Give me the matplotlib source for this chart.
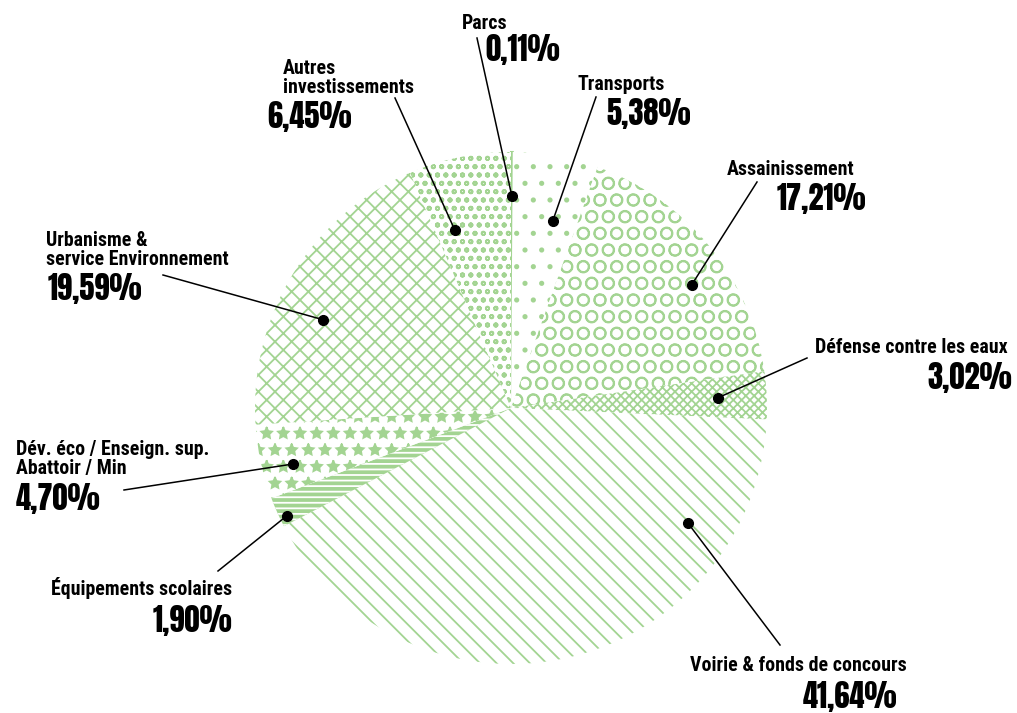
"""Recreate the investment breakdown pie chart with pattern fills."""

import math

import matplotlib

matplotlib.use("Agg")
import matplotlib.pyplot as plt

plt.rcParams["hatch.linewidth"] = 1.3

FIG_W, FIG_H = 1017, 713
GREEN = "#a3d492"

categories = [
    "Parcs",
    "Transports",
    "Assainissement",
    "Défense contre les eaux",
    "Voirie & fonds de concours",
    "Équipements scolaires",
    "Dév. éco / Enseign. sup.\nAbattoir / Min",
    "Urbanisme &\nservice Environnement",
    "Autres\ninvestissements",
]
values = [0.11, 5.38, 17.21, 3.02, 41.64, 1.90, 4.70, 19.59, 6.45]

# fill style per slice: (facecolor, hatch colour, hatch)
styles = [
    (GREEN, GREEN, ""),
    ("white", GREEN, "."),
    ("white", GREEN, "O"),
    ("white", GREEN, "xxxx"),
    ("white", GREEN, "\\\\"),
    (GREEN, "white", "---"),
    ("white", GREEN, "*"),
    ("white", GREEN, "xx"),
    ("white", GREEN, "oo"),
]

# label layout in picture pixels: name x, baseline of last name line, value x, value baseline
label_pos = [
    (462, 29, 485, 61),
    (578, 90, 606, 125),
    (727, 175, 777, 210),
    (1008, 353, 1012, 389),
    (907, 671, 897, 708),
    (232, 595, 232, 632),
    (16, 474, 16, 510),
    (46, 265, 48, 300),
    (283, 93, 267, 128),
]
text_align = ["left", "left", "left", "right", "right", "right", "left", "left", "left"]
# where the leader line leaves the label
line_start = [
    (477, 38), (596, 97), (757, 182), (807, 358), (780, 645),
    (218, 571), (124, 490), (163, 275), (395, 98),
]
# dot anchor inside each wedge: (fraction along the slice clockwise, fraction of radius)
anchor = [
    (0.5, 0.83), (0.63, 0.75), (0.58, 0.855), (0.5, 0.81), (0.203, 0.824),
    (0.27, 0.97), (0.37, 0.88), (0.41, 0.81), (0.245, 0.73),
]

CENTER = (511, FIG_H - 408)
RADIUS = 256

NAME_FONT = ["Roboto Condensed", "DejaVu Sans"]
VALUE_FONT = ["Anton", "Oswald", "DejaVu Sans"]


def flip(x, y):
    """Picture pixel coordinates to data coordinates."""
    return x, FIG_H - y


def fmt_pct(v):
    return f"{v:.2f}".replace(".", ",") + "%"


fig = plt.figure(figsize=(FIG_W / 100, FIG_H / 100), dpi=100)
ax = fig.add_axes([0, 0, 1, 1])

wedges, _ = ax.pie(
    values,
    center=CENTER,
    radius=RADIUS,
    startangle=90,
    counterclock=False,
    frame=True,
    normalize=True,
)
for wedge, (face, hcol, hatch) in zip(wedges, styles):
    wedge.set_facecolor(face)
    wedge.set_edgecolor(hcol)
    wedge.set_hatch(hatch)
    wedge.set_linewidth(0)
wedges[0].set_linewidth(1.5)

ax.set_xlim(0, FIG_W)
ax.set_ylim(0, FIG_H)
ax.set_aspect("equal")
ax.axis("off")

for i, wedge in enumerate(wedges):
    t, rf = anchor[i]
    theta = math.radians(wedge.theta2 - t * (wedge.theta2 - wedge.theta1))
    dx = CENTER[0] + rf * RADIUS * math.cos(theta)
    dy = CENTER[1] + rf * RADIUS * math.sin(theta)
    sx, sy = flip(*line_start[i])
    ax.plot([sx, dx], [sy, dy], color="black", lw=1.1, zorder=5)
    ax.plot(dx, dy, "o", color="black", ms=7, zorder=6)

    nx, ny, vx, vy = label_pos[i]
    ax.text(*flip(nx, ny), categories[i], ha=text_align[i], va="baseline",
            fontsize=14.3, fontweight="bold", family=NAME_FONT, linespacing=0.98,
            multialignment="left")
    ax.text(*flip(vx, vy), fmt_pct(values[i]), ha=text_align[i], va="baseline",
            fontsize=22, family=VALUE_FONT)

fig.savefig("out.png", dpi=100)
